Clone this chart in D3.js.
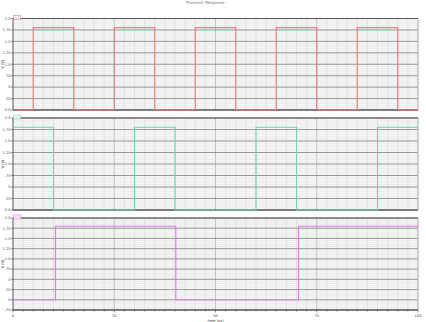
<!DOCTYPE html>
<html>
<head>
<meta charset="utf-8">
<script src="https://cdn.jsdelivr.net/npm/d3@7"></script>
<style>
  body { margin: 0; background: #fff; }
  svg { display: block; font-family: "DejaVu Sans", sans-serif; }
</style>
</head>
<body>
<svg width="426" height="322"></svg>
<script>
// signals (time in ns, voltage in V)
var v1T = [0, 5, 5, 15, 15, 25, 25, 35, 35, 45, 45, 55, 55, 65, 65, 75, 75, 85, 85, 95, 95, 100];
var v1V = [0, 0, 1.8, 1.8, 0, 0, 1.8, 1.8, 0, 0, 1.8, 1.8, 0, 0, 1.8, 1.8, 0, 0, 1.8, 1.8, 0, 0];
var v2T = [0, 10, 10, 30, 30, 40, 40, 60, 60, 70, 70, 90, 90, 100];
var v2V = [1.8, 1.8, 0, 0, 1.8, 1.8, 0, 0, 1.8, 1.8, 0, 0, 1.8, 1.8];
var v3T = [0, 10.5, 10.5, 40.2, 40.2, 70.5, 70.5, 100];
var v3V = [0, 0, 1.8, 1.8, 0, 0, 1.8, 1.8];

var xTicks = [0, 25, 50, 75, 100];
var xTickLabels = ["0", "25", "50", "75", "100"];
var yTicksA = [0, 0.25, 0.5, 0.75, 1.0, 1.25, 1.5, 1.75, 2.0];
var yLabelsA = ["0.0", ".25", ".5", ".75", "1.0", "1.25", "1.5", "1.75", "2.0"];
var yTicksB = [-0.25, 0, 0.25, 0.5, 0.75, 1.0, 1.25, 1.5, 1.75, 2.0];
var yLabelsB = ["-.25", "0", ".25", ".5", ".75", "1.0", "1.25", "1.5", "1.75", "2.0"];

var panels = [
  { name: "/v1", t: v1T, v: v1V, color: "#e77b7b", top: 18.5, bottom: 110, dom: [0, 2], ticks: yTicksA, labels: yLabelsA },
  { name: "/v2", t: v2T, v: v2V, color: "#6fd4b2", top: 118, bottom: 210, dom: [0, 2], ticks: yTicksA, labels: yLabelsA },
  { name: "/v3", t: v3T, v: v3V, color: "#e278e2", top: 218, bottom: 310, dom: [-0.25, 2], ticks: yTicksB, labels: yLabelsB }
];

var svg = d3.select("svg");
var x = d3.scaleLinear().domain([0, 100]).range([13, 418]);

svg.append("text")
  .attr("x", 205).attr("y", 4)
  .attr("text-anchor", "middle")
  .attr("font-size", 4).attr("fill", "#777")
  .text("Transient Response");

panels.forEach(function(p, i) {
  var y = d3.scaleLinear().domain(p.dom).range([p.bottom, p.top]);
  var g = svg.append("g");

  g.append("rect")
    .attr("x", x(0)).attr("y", p.top)
    .attr("width", x(100) - x(0)).attr("height", p.bottom - p.top)
    .attr("fill", "#f7f7f7");

  // minor verticals every 2.5 ns
  var vMinor = d3.range(0, 100.01, 2.5);
  g.selectAll(".vm").data(vMinor).enter().append("line")
    .attr("x1", function(d) { return x(d); }).attr("x2", function(d) { return x(d); })
    .attr("y1", p.top).attr("y2", p.bottom)
    .attr("stroke", function(d) { return d % 25 == 0 ? "#a8a8a8" : "#dcdcdc"; })
    .attr("stroke-width", 0.8);

  // minor horizontals, 5 per major step
  var step = 0.05;
  var hMinor = d3.range(p.dom[0], p.dom[1] + 0.001, step);
  g.selectAll(".hm").data(hMinor).enter().append("line")
    .attr("x1", x(0)).attr("x2", x(100))
    .attr("y1", function(d) { return y(d); }).attr("y2", function(d) { return y(d); })
    .attr("stroke", "#e2e2e2").attr("stroke-width", 0.6);

  g.selectAll(".hM").data(p.ticks).enter().append("line")
    .attr("x1", x(0)).attr("x2", x(100))
    .attr("y1", function(d) { return y(d); }).attr("y2", function(d) { return y(d); })
    .attr("stroke", "#8c8c8c").attr("stroke-width", 0.9);

  // frame
  g.append("line").attr("x1", x(0)).attr("x2", x(100)).attr("y1", p.top).attr("y2", p.top)
    .attr("stroke", "#555").attr("stroke-width", 1.2);
  g.append("line").attr("x1", x(0)).attr("x2", x(100)).attr("y1", p.bottom).attr("y2", p.bottom)
    .attr("stroke", "#333").attr("stroke-width", 1.2);
  g.append("line").attr("x1", x(0)).attr("x2", x(0)).attr("y1", p.top).attr("y2", p.bottom)
    .attr("stroke", "#555").attr("stroke-width", 0.8);
  g.append("line").attr("x1", x(100)).attr("x2", x(100)).attr("y1", p.top).attr("y2", p.bottom)
    .attr("stroke", "#bbb").attr("stroke-width", 0.8);

  // y ticks + labels
  g.selectAll(".yt").data(p.ticks).enter().append("line")
    .attr("x1", x(0) - 2).attr("x2", x(0))
    .attr("y1", function(d) { return y(d); }).attr("y2", function(d) { return y(d); })
    .attr("stroke", "#444").attr("stroke-width", 0.6);
  g.selectAll(".yl").data(p.ticks).enter().append("text")
    .attr("x", x(0) - 2.5)
    .attr("y", function(d) { return y(d) + 1.3; })
    .attr("text-anchor", "end")
    .attr("font-size", 3.6).attr("fill", "#444")
    .text(function(d, j) { return p.labels[j]; });

  g.append("text")
    .attr("transform", "translate(4," + ((p.top + p.bottom) / 2) + ") rotate(-90)")
    .attr("text-anchor", "middle")
    .attr("font-size", 3.6).attr("fill", "#333")
    .text("V (V)");

  // signal
  var pts = p.t.map(function(t, j) { return [t, p.v[j]]; });
  g.append("path")
    .attr("d", d3.line().x(function(d) { return x(d[0]); }).y(function(d) { return y(d[1]); })(pts))
    .attr("fill", "none")
    .attr("stroke", p.color).attr("stroke-width", 1.1);

  // legend tag
  g.append("rect")
    .attr("x", x(0) + 0.5).attr("y", p.top - 3).attr("width", 7).attr("height", 4)
    .attr("fill", "#fff").attr("stroke", p.color).attr("stroke-width", 0.6);
  g.append("text")
    .attr("x", x(0) + 1.2).attr("y", p.top + 0.2)
    .attr("font-size", 3.2).attr("fill", p.color)
    .text(p.name);
});

// x axis under the last panel
var last = panels[2];
var xMinor = d3.range(0, 100.01, 2.5);
svg.selectAll(".xt").data(xMinor).enter().append("line")
  .attr("x1", function(d) { return x(d); }).attr("x2", function(d) { return x(d); })
  .attr("y1", last.bottom).attr("y2", function(d) { return last.bottom + (d % 25 == 0 ? 2.5 : 1.5); })
  .attr("stroke", "#444").attr("stroke-width", 0.6);
svg.selectAll(".xl").data(xTicks).enter().append("text")
  .attr("x", function(d) { return x(d); }).attr("y", 317)
  .attr("text-anchor", "middle")
  .attr("font-size", 3.6).attr("fill", "#444")
  .text(function(d, i) { return xTickLabels[i]; });
svg.append("text")
  .attr("x", x(50)).attr("y", 322)
  .attr("text-anchor", "middle")
  .attr("font-size", 3.6).attr("fill", "#444")
  .text("time (ns)");
</script>
</body>
</html>
